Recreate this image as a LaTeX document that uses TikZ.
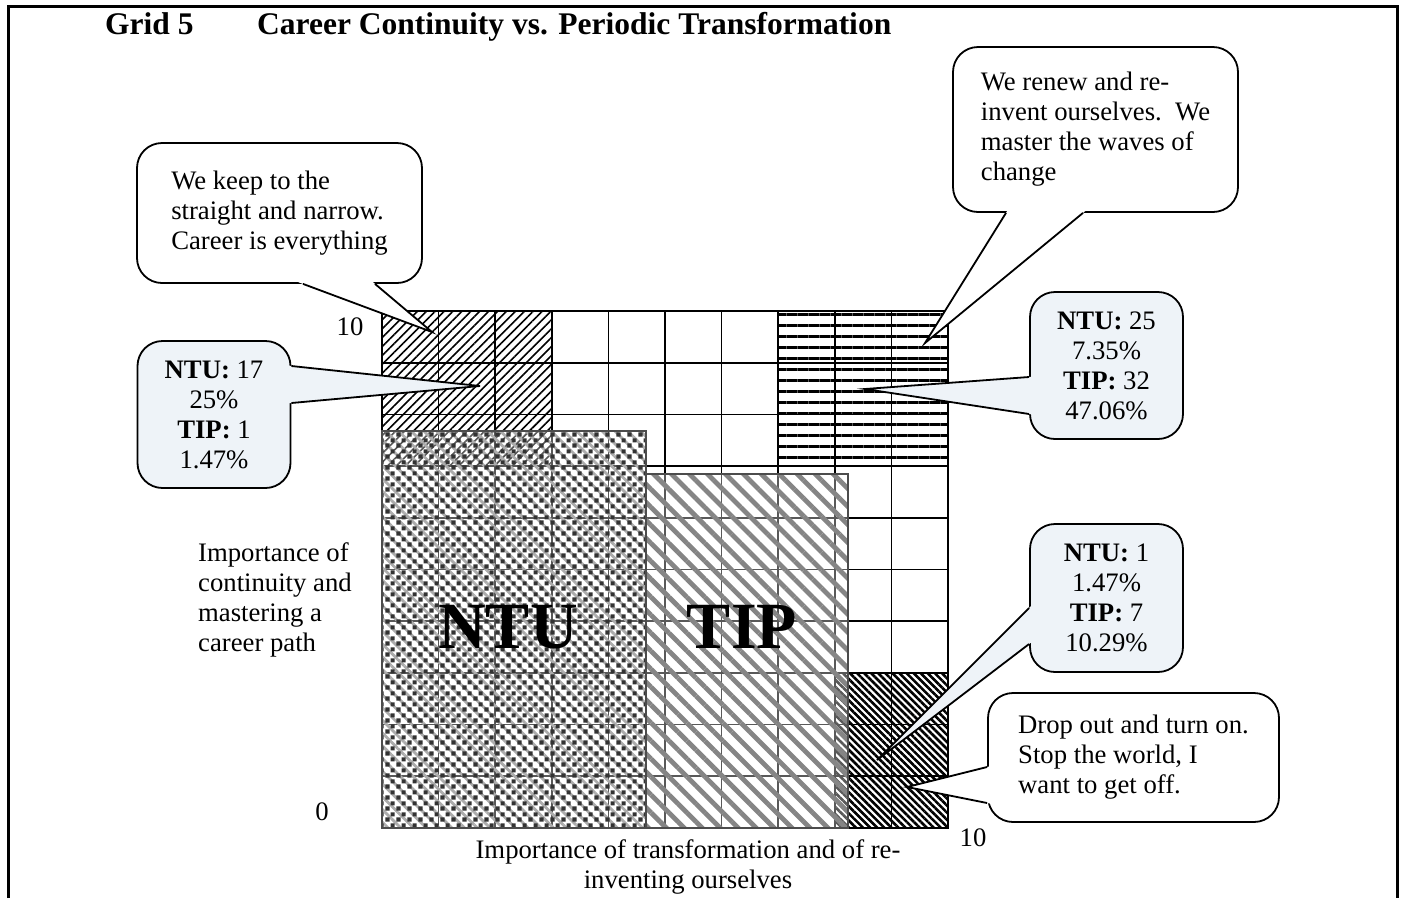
\documentclass[tikz,border=0pt]{standalone}
\usepackage{fontspec}
\setmainfont{Liberation Serif}
\usetikzlibrary{positioning, calc, patterns.meta}
\definecolor{callfill}{HTML}{EEF3F8}
\definecolor{stripegray}{HTML}{858585}
\definecolor{squaregray}{HTML}{333333}
\pgfdeclarepattern{
  name=ntusquares, type=uncolored,
  bottom left={\pgfpoint{0pt}{0pt}}, top right={\pgfpoint{11pt}{11pt}},
  tile size={\pgfpoint{11pt}{11pt}},
  code={
    \pgfpathrectangle{\pgfpoint{0.5pt}{0.5pt}}{\pgfpoint{4.5pt}{4.5pt}}
    \pgfpathrectangle{\pgfpoint{6pt}{6pt}}{\pgfpoint{4.5pt}{4.5pt}}
    \pgfusepath{fill}
  }}
\newcommand{\CallPointer}[4][white]{%
  \fill[#1] ($(#2)!-5pt!(#4)$) -- ($(#3)!-5pt!(#4)$) -- (#4) -- cycle;
  \draw[callline] (#2) -- (#4) -- (#3);}
\tikzset{
    txt/.style={font=\fontsize{26.7}{30}\selectfont, inner sep=0pt},
    titletxt/.style={font=\fontsize{31.5}{34}\selectfont\bfseries, inner sep=0pt},
    bigtxt/.style={font=\fontsize{66}{70}\selectfont\bfseries, inner sep=0pt},
    saybox/.style={txt, draw, line width=1.8pt, rounded corners=25pt, fill=white, align=left},
    statbox/.style={saybox, fill=callfill, align=center, minimum width=153pt, minimum height=147pt},
    callline/.style={line width=1.8pt, line join=miter},
    gridline/.style={line width=1.7pt},
    overline/.style={draw=gray!60!black, line width=2pt},
}
\begin{document}
\begin{tikzpicture}[x=1pt, y=-1pt]
    \useasboundingbox (0,0) rectangle (1403,898);
    \draw[line width=3pt] (8,898) -- (8,6) -- (1397,6) -- (1397,898);

    \node[titletxt, anchor=base west] (gridno) at (105,34) {Grid 5};
    \node[titletxt, anchor=base west] (title) at (257,34) {Career Continuity vs. Periodic Transformation};

    \fill[pattern={Lines[angle=45, distance=6.3pt, line width=1.6pt]}] (382,311) rectangle (552,466);
    \fill[pattern={Lines[angle=0, distance=11pt, line width=3pt]}] (778,311) rectangle (948,466);
    \fill[pattern={Lines[angle=-45, distance=5pt, line width=2.6pt]}] (835,673) rectangle (948,828);

    \foreach \i in {0,...,10} {
      \draw[gridline] ({382+56.6*\i},311) -- ({382+56.6*\i},828);
      \draw[gridline] (382,{311+51.7*\i}) -- (948,{311+51.7*\i});
    }
    \draw[line width=2.6pt] (382,311) rectangle (948,828);

    \fill[white, fill opacity=0.35] (382,431) rectangle (646,828);
    \fill[pattern={Lines[angle=-45, distance=9pt, line width=2.8pt]}, pattern color=gray!65] (382,431) rectangle (646,828);
    \fill[pattern=ntusquares, pattern color=squaregray] (382,431) rectangle (646,828);
    \draw[overline] (382,431) rectangle (646,828);

    \fill[white, fill opacity=0.35] (646,474) rectangle (848,828);
    \fill[pattern={Lines[angle=-45, distance=12.7pt, line width=4.8pt]}, pattern color=stripegray] (646,474) rectangle (848,828);
    \draw[overline] (646,474) rectangle (848,828);

    \node[bigtxt] (ntu) at (508,627) {NTU};
    \node[bigtxt] (tip) at (742,627) {TIP};

    \node[txt] (ytop) at (350,327) {10};
    \node[txt] (zero) at (322,812) {0};
    \node[txt] (xright) at (973,838) {10};
    \node[txt, align=left, anchor=west] (ylabel) at (198,600) {Importance of\\continuity and\\mastering a\\career path};
    \node[txt, align=center] (xlabel) at (688,867) {Importance of transformation and of re-\\inventing ourselves};

    \node[saybox, minimum width=285pt, minimum height=140pt] (keep) at (279.5,213)
      {We keep to the\\straight and narrow.\\Career is everything};
    \coordinate (keepa) at ($(keep.south)+(23.5,0)$);
    \coordinate (keepb) at ($(keep.south)+(95.5,0)$);
    \coordinate (keeptip) at (432,332);
    \CallPointer{keepa}{keepb}{keeptip}

    \node[statbox] (ntua) at (214,414.5)
      {\textbf{NTU:} 17\\25\%\\\textbf{TIP:} 1\\1.47\%};
    \coordinate (ntuaa) at ($(ntua.east)+(0,-48.5)$);
    \coordinate (ntuab) at ($(ntua.east)+(0,-11.5)$);
    \coordinate (ntuatip) at (480,386);
    \CallPointer[callfill]{ntuaa}{ntuab}{ntuatip}

    \node[saybox, minimum width=285pt, minimum height=165pt] (renew) at (1095.5,129.5)
      {We renew and re-\\invent ourselves.\ \ We\\master the waves of\\change};
    \coordinate (renewa) at ($(renew.south)+(-89.5,0)$);
    \coordinate (renewb) at ($(renew.south)+(-12.5,0)$);
    \coordinate (renewtip) at (925,343);
    \CallPointer{renewa}{renewb}{renewtip}

    \node[statbox] (ntub) at (1106.5,365.5)
      {\textbf{NTU:} 25\\7.35\%\\\textbf{TIP:} 32\\47.06\%};
    \coordinate (ntuba) at ($(ntub.west)+(0,11.5)$);
    \coordinate (ntubb) at ($(ntub.west)+(0,48.5)$);
    \coordinate (ntubtip) at (865,389);
    \CallPointer[callfill]{ntuba}{ntubb}{ntubtip}

    \node[statbox, minimum height=148pt] (ntuc) at (1106.5,598)
      {\textbf{NTU:} 1\\1.47\%\\\textbf{TIP:} 7\\10.29\%};
    \coordinate (ntuca) at ($(ntuc.west)+(0,10)$);
    \coordinate (ntucb) at ($(ntuc.west)+(0,46)$);
    \coordinate (ntuctip) at (877,760);
    \CallPointer[callfill]{ntuca}{ntucb}{ntuctip}

    \node[saybox, minimum width=291pt, minimum height=129pt] (drop) at (1133.5,757.5)
      {Drop out and turn on.\\Stop the world, I\\want to get off.};
    \coordinate (dropa) at ($(drop.west)+(0,9.5)$);
    \coordinate (dropb) at ($(drop.west)+(0,45.5)$);
    \coordinate (droptip) at (907,787);
    \CallPointer{dropa}{dropb}{droptip}
\end{tikzpicture}
\end{document}
